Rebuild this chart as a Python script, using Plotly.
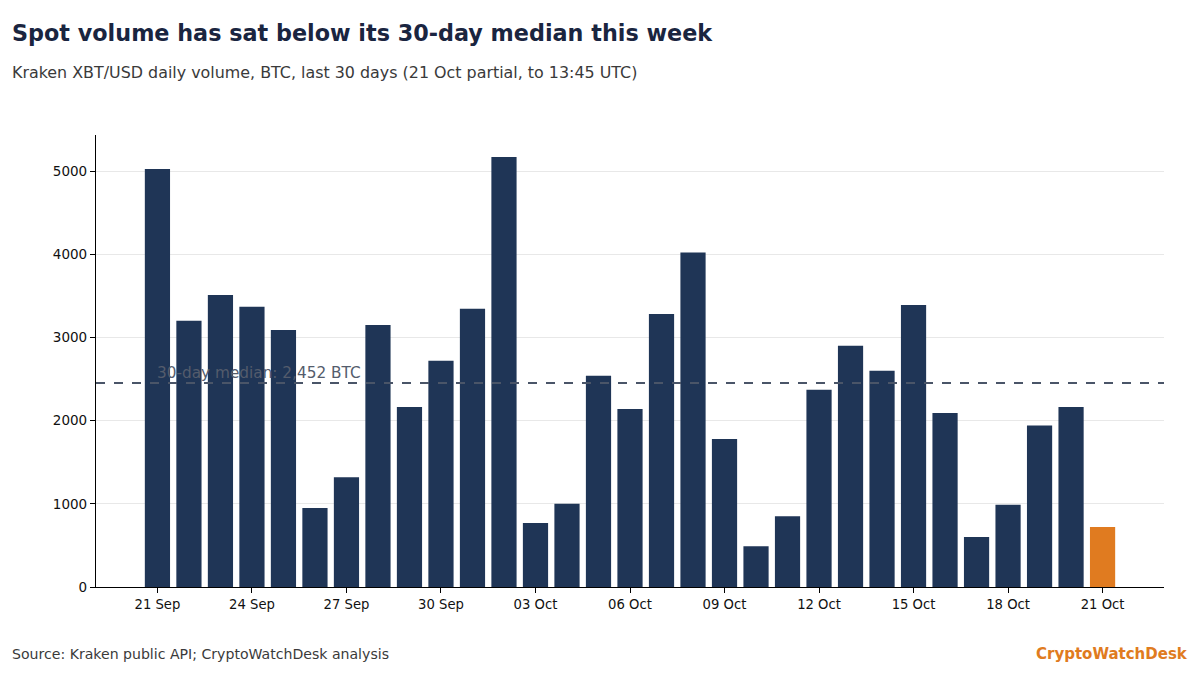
import pandas as pd
import plotly.graph_objects as go

# ---- data ----
dates = pd.date_range("2025-09-21", "2025-10-21", freq="D")
volumes = [5025, 3200, 3510, 3370, 3090, 950, 1320, 3150, 2165, 2720,
           3345, 5170, 770, 1000, 2540, 2140, 3280, 4020, 1780, 490,
           850, 2370, 2900, 2600, 3390, 2090, 600, 990, 1940, 2165, 722]
median_value = 2452
title_text = "Spot volume has sat below its 30-day median this week"
subtitle_text = "Kraken XBT/USD daily volume, BTC, last 30 days (21 Oct partial, to 13:45 UTC)"
source_text = "Source: Kraken public API; CryptoWatchDesk analysis"
brand_text = "CryptoWatchDesk"
y_ticks = [0, 1000, 2000, 3000, 4000, 5000]

NAVY = "#1f3556"
ORANGE = "#e07b20"
colors = [NAVY] * (len(volumes) - 1) + [ORANGE]

fig = go.Figure()
fig.add_trace(go.Bar(x=dates, y=volumes, marker=dict(color=colors, line=dict(width=0)),
                     hoverinfo="x+y"))

fig.add_hline(y=median_value, line=dict(color="#4a5568", width=1.8, dash="dash"), layer="above")
fig.add_annotation(x=dates[0], y=median_value, xref="x", yref="y",
                   text=f"30-day median: {median_value:,} BTC", showarrow=False,
                   xanchor="left", yanchor="bottom", yshift=-1, xshift=-2,
                   font=dict(family="DejaVu Sans", size=15.3, color="#545c6c"))

W, H = 1200, 675
L, R, T, B = 96, 36, 135, 88
pw, ph = W - L - R, H - T - B

def px_x(px):
    return (px - L) / pw

def px_y(py):
    return (H - B - py) / ph

fig.add_annotation(xref="paper", yref="paper", x=px_x(10), y=px_y(33), text=f"<b>{title_text}</b>",
                   showarrow=False, xanchor="left", yanchor="middle",
                   font=dict(family="DejaVu Sans", size=22.3, color="#1a2540"))
fig.add_annotation(xref="paper", yref="paper", x=px_x(10), y=px_y(72), text=subtitle_text,
                   showarrow=False, xanchor="left", yanchor="middle",
                   font=dict(family="DejaVu Sans", size=15.9, color="#3a3a3a"))
fig.add_annotation(xref="paper", yref="paper", x=px_x(10), y=px_y(654), text=source_text,
                   showarrow=False, xanchor="left", yanchor="middle",
                   font=dict(family="DejaVu Sans", size=14.1, color="#3a3a3a"))
fig.add_annotation(xref="paper", yref="paper", x=px_x(1190), y=px_y(654), text=f"<b>{brand_text}</b>",
                   showarrow=False, xanchor="right", yanchor="middle",
                   font=dict(family="DejaVu Sans", size=15, color=ORANGE))

x_start = dates[0] - pd.Timedelta(hours=1.95 * 24)
x_end = dates[-1] + pd.Timedelta(hours=1.95 * 24)

fig.update_layout(
    width=W, height=H,
    margin=dict(l=L, r=R, t=T, b=B, autoexpand=False),
    paper_bgcolor="white", plot_bgcolor="white",
    bargap=0.2, showlegend=False,
    font=dict(family="DejaVu Sans", size=13, color="#111111"),
    xaxis=dict(type="date", range=[x_start, x_end], tickvals=list(dates[::3]),
               tickformat="%d %b", showgrid=False, showline=True, linecolor="black",
               linewidth=1.2, ticks="outside", ticklen=5, tickcolor="black",
               tickfont=dict(size=13.2), zeroline=False),
    yaxis=dict(range=[0, 5433], tickvals=y_ticks, tickformat="d", showgrid=True,
               gridcolor="#e8e8e8", gridwidth=1, showline=True, linecolor="black",
               linewidth=1.2, ticks="outside", ticklen=5, tickcolor="black",
               tickfont=dict(size=13.5), zeroline=False),
)

fig.write_html("out.html")
